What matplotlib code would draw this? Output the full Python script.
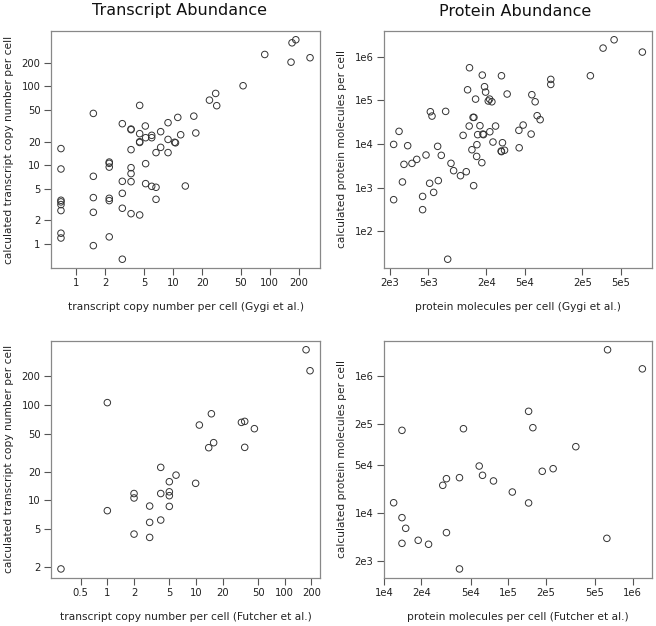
import matplotlib
matplotlib.use("Agg")
import matplotlib.pyplot as plt
import numpy as np

# Panel 1: Transcript abundance (Gygi)
t_gygi_x = [186, 170, 88.8, 166, 261, 53, 23.8, 27.6, 28.3, 4.52, 1.5, 11.2, 16.4, 8.88, 2.99,
            3.68, 3.68, 5.17, 7.45, 17.2, 12.0, 4.52, 6.02, 6.02, 5.21, 8.88, 4.52, 4.52, 10.4, 10.6,
            0.694, 3.68, 7.45, 6.67, 8.88, 2.19, 2.19, 2.19, 5.21, 3.68, 0.694, 1.5, 3.68, 2.99, 3.68,
            5.21, 6.02, 6.67, 13.4, 2.99, 1.5, 2.19, 2.19, 0.694, 0.694, 0.694, 0.694, 6.67, 2.99,
            1.5, 3.68, 4.52, 0.694, 0.694, 2.19, 1.5, 2.99]
t_gygi_y = [390, 357, 254, 203, 231, 102, 67, 81.5, 57, 57.5, 45.5, 40.5, 42, 34.7, 33.7,
            28.8, 28.3, 31.5, 26.7, 25.7, 24.4, 25.2, 24, 22.4, 22.4, 21.3, 19.9, 19.5, 19.6, 19.3,
            16.3, 15.8, 16.9, 14.5, 14.5, 11.0, 10.6, 9.5, 10.5, 9.34, 8.99, 7.26, 7.85, 6.27, 6.21,
            5.86, 5.42, 5.27, 5.47, 4.42, 3.90, 3.82, 3.57, 3.61, 3.44, 3.18, 2.67, 3.71, 2.86,
            2.54, 2.44, 2.35, 1.38, 1.20, 1.24, 0.96, 0.646]

# Panel 2: Protein abundance (Gygi)
p_gygi_x = [4.27e5, 3.28e5, 8.4e5, 2.42e5, 9.38e4, 9.38e4, 1.34e4, 1.82e4, 2.88e4, 1.28e4,
            1.92e4, 1.97e4, 3.30e4, 1.55e4, 2.17e4, 2.10e4, 2.29e4, 5.96e4, 6.45e4, 5.25e3,
            5.46e3, 7.57e3, 1.46e4, 1.49e4, 6.77e4, 7.27e4, 2.48e3, 1.33e4, 1.72e4, 2.50e4,
            4.84e4, 2.18e4, 4.37e4, 1.85e4, 1.63e4, 1.15e4, 5.86e4, 1.87e4, 2.18e3, 3.05e3,
            6.25e3, 1.60e4, 2.35e4, 2.95e4, 1.42e4, 2.86e4, 3.10e4, 2.88e4, 4.40e4, 4.73e3,
            3.79e3, 6.82e3, 2.79e3, 3.38e3, 1.59e4, 1.80e4, 8.6e3, 9.16e3, 1.08e4, 1.24e4,
            2.69e3, 5.16e3, 6.35e3, 1.48e4, 5.68e3, 2.18e3, 4.36e3, 4.36e3, 7.95e3]
p_gygi_y = [2.45e6, 1.58e6, 1.28e6, 3.67e5, 3.03e5, 2.32e5, 5.6e5, 3.8e5, 3.67e5, 1.75e5,
            2.06e5, 1.55e5, 1.40e5, 1.07e5, 1.07e5, 9.7e4, 9.3e4, 1.35e5, 9.3e4, 5.5e4,
            4.37e4, 5.6e4, 4.08e4, 4.08e4, 4.46e4, 3.61e4, 1.95e4, 2.58e4, 2.63e4, 2.58e4,
            2.72e4, 1.91e4, 2.06e4, 1.69e4, 1.64e4, 1.58e4, 1.69e4, 1.64e4, 9.8e3, 9.16e3,
            8.85e3, 9.66e3, 1.11e4, 1.07e4, 7.4e3, 6.9e3, 7.2e3, 6.7e3, 8.2e3, 5.6e3,
            4.45e3, 5.5e3, 3.42e3, 3.6e3, 5.2e3, 3.74e3, 3.61e3, 2.45e3, 1.88e3, 2.32e3,
            1.35e3, 1.26e3, 1.45e3, 1.11e3, 7.8e2, 5.3e2, 6.3e2, 3.13e2, 22.9]

# Panel 3: Transcript abundance (Futcher)
t_fut_x = [174, 193, 1.0, 14.9, 10.9, 32.5, 35.4, 45.5, 15.8, 13.9, 35.4, 4.0, 5.95, 5.0,
           9.9, 2.0, 2.0, 4.0, 5.0, 5.0, 3.0, 5.0, 1.0, 4.0, 3.0, 2.0, 3.0, 0.30]
t_fut_y = [380, 229, 106, 81, 61.7, 65.8, 67.4, 56.5, 40.3, 35.7, 36, 22.2, 18.4, 15.7,
           15.1, 11.8, 10.6, 11.8, 12.3, 11.2, 8.72, 8.65, 7.8, 6.22, 5.88, 4.43, 4.09, 1.91]

# Panel 4: Protein abundance (Futcher)
p_fut_x = [6.3e5, 1.2e6, 1.46e5, 1.40e4, 4.37e4, 1.58e5, 3.50e5, 5.85e4, 2.30e5, 1.88e5,
           6.22e4, 3.19e4, 4.06e4, 2.98e4, 7.62e4, 1.08e5, 1.20e4, 1.46e5, 1.40e4, 1.50e4,
           3.19e4, 1.89e4, 1.40e4, 2.29e4, 6.22e5, 4.06e4]
p_fut_y = [2.39e6, 1.26e6, 3.03e5, 1.60e5, 1.69e5, 1.75e5, 9.25e4, 4.83e4, 4.42e4, 4.05e4,
           3.54e4, 3.16e4, 3.27e4, 2.53e4, 2.93e4, 2.02e4, 1.41e4, 1.40e4, 8.55e3, 5.98e3,
           5.17e3, 4.0e3, 3.61e3, 3.5e3, 4.27e3, 1.53e3]

ticks_t1_x = [1, 2, 5, 10, 20, 50, 100, 200]
labels_t1_x = ["1", "2", "5", "10", "20", "50", "100", "200"]
ticks_t1_y = [1, 2, 5, 10, 20, 50, 100, 200]
labels_t1_y = ["1", "2", "5", "10", "20", "50", "100", "200"]
ticks_p1_x = [2e3, 5e3, 2e4, 5e4, 2e5, 5e5]
labels_p1_x = ["2e3", "5e3", "2e4", "5e4", "2e5", "5e5"]
ticks_p1_y = [1e2, 1e3, 1e4, 1e5, 1e6]
labels_p1_y = ["1e2", "1e3", "1e4", "1e5", "1e6"]
ticks_t2_x = [0.5, 1, 2, 5, 10, 20, 50, 100, 200]
labels_t2_x = ["0.5", "1", "2", "5", "10", "20", "50", "100", "200"]
ticks_t2_y = [2, 5, 10, 20, 50, 100, 200]
labels_t2_y = ["2", "5", "10", "20", "50", "100", "200"]
ticks_p2_x = [1e4, 2e4, 5e4, 1e5, 2e5, 5e5, 1e6]
labels_p2_x = ["1e4", "2e4", "5e4", "1e5", "2e5", "5e5", "1e6"]
ticks_p2_y = [2e3, 1e4, 5e4, 2e5, 1e6]
labels_p2_y = ["2e3", "1e4", "5e4", "2e5", "1e6"]

W, H = 656, 626
fig = plt.figure(figsize=(W / 100, H / 100), dpi=100)

def rect(l, r, t, b):
    return [l / W, 1 - b / H, (r - l) / W, (b - t) / H]

panels = [
    (rect(51, 320, 31, 268), t_gygi_x, t_gygi_y, ticks_t1_x, labels_t1_x, ticks_t1_y, labels_t1_y,
     "transcript copy number per cell (Gygi et al.)", "calculated transcript copy number per cell",
     -0.157, -0.163),
    (rect(383.7, 652.3, 31, 268), p_gygi_x, p_gygi_y, ticks_p1_x, labels_p1_x, ticks_p1_y, labels_p1_y,
     "protein molecules per cell (Gygi et al.)", "calculated protein molecules per cell",
     -0.155, -0.163),
    (rect(51, 320, 341, 577.7), t_fut_x, t_fut_y, ticks_t2_x, labels_t2_x, ticks_t2_y, labels_t2_y,
     "transcript copy number per cell (Futcher et al.)", "calculated transcript copy number per cell",
     -0.157, -0.165),
    (rect(383.7, 652.3, 341, 577.7), p_fut_x, p_fut_y, ticks_p2_x, labels_p2_x, ticks_p2_y, labels_p2_y,
     "protein molecules per cell (Futcher et al.)", "calculated protein molecules per cell",
     -0.155, -0.165),
]

for (r, xs, ys, xt, xl, yt, yl, xlab, ylab, ylx, xly) in panels:
    ax = fig.add_axes(r)
    ax.set_xscale("log")
    ax.set_yscale("log")
    ax.scatter(xs, ys, s=22, facecolors="none", edgecolors="#333333", linewidths=0.7)
    lx = np.log10(xs); ly = np.log10(ys)
    dx = (lx.max() - lx.min()) * 0.04
    dy = (ly.max() - ly.min()) * 0.04
    ax.set_xlim(10 ** (lx.min() - dx), 10 ** (lx.max() + dx))
    ax.set_ylim(10 ** (ly.min() - dy), 10 ** (ly.max() + dy))
    ax.xaxis.set_minor_locator(matplotlib.ticker.NullLocator())
    ax.yaxis.set_minor_locator(matplotlib.ticker.NullLocator())
    ax.set_xticks(xt)
    ax.set_xticklabels(xl)
    ax.set_yticks(yt)
    ax.set_yticklabels(yl)
    ax.tick_params(direction="out", length=5, width=0.8, color="#555555", labelsize=7.2,
                   labelcolor="#222222", pad=2.5)
    for s in ax.spines.values():
        s.set_color("#888888")
        s.set_linewidth(0.9)
    ax.set_xlabel(xlab, fontsize=7.7, color="#222222", va="center")
    ax.set_ylabel(ylab, fontsize=7.7, color="#222222", va="center")
    ax.xaxis.set_label_coords(0.5, xly)
    ax.yaxis.set_label_coords(ylx, 0.5)

fig.text(180 / W, 1 - 11 / H, "Transcript Abundance", ha="center", va="center", fontsize=11.5, color="#111111")
fig.text(515 / W, 1 - 11 / H, "Protein Abundance", ha="center", va="center", fontsize=11.5, color="#111111")

fig.savefig("out.png", dpi=100)
